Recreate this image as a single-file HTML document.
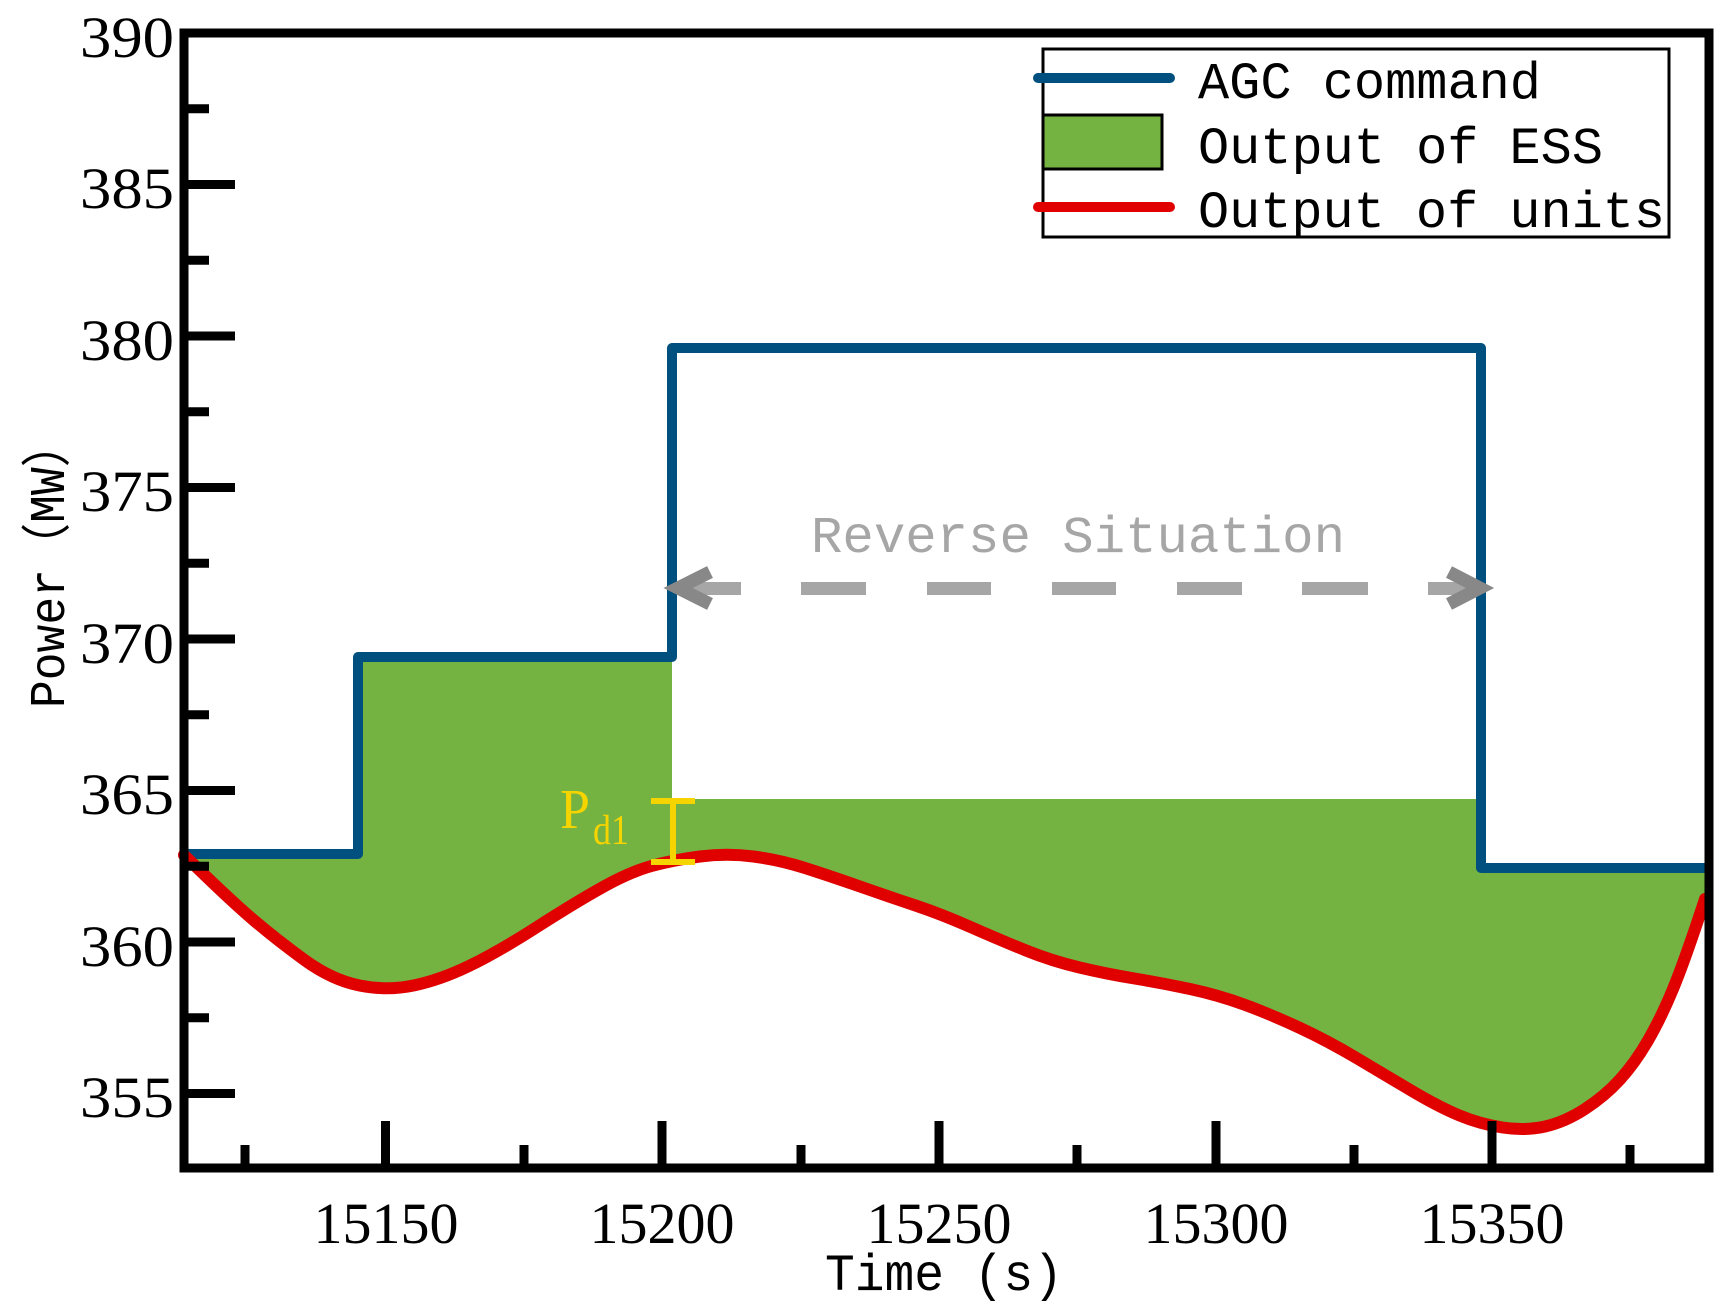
<!DOCTYPE html>
<html><head><meta charset="utf-8"><style>html,body{margin:0;padding:0;background:#fff}svg{display:block}</style></head>
<body>
<svg width="1732" height="1308" viewBox="0 0 1732 1308" xmlns="http://www.w3.org/2000/svg">
<rect width="1732" height="1308" fill="#fff"/>
<!-- green fill -->
<path fill="#74b241" d="M184,855 Q230,900 253.5,920 Q277,940 304.5,960 Q332,980 359.5,985.5 Q387,991 413.5,985.5 Q440,980 469,966 Q498,952 537,927 Q576,902 603,887 Q630,872 651.5,866 Q673,860 700,856.5 Q727,853 753.5,856.5 Q780,860 805,868 Q830,876 860,886.5 Q890,897 915.5,905.5 Q941,914 970.5,927 Q1000,940 1026,950.5 Q1052,961 1079.5,967.5 Q1107,974 1134.5,978.5 Q1162,983 1190,989 Q1218,995 1244,1004.5 Q1270,1014 1299,1027.5 Q1328,1041 1356.5,1058 Q1385,1075 1412,1091 Q1439,1107 1459.5,1115.5 Q1480,1124 1502.5,1127.5 Q1525,1131 1545,1126.5 Q1565,1122 1585,1109 Q1605,1096 1620,1079.5 Q1635,1063 1648,1040.5 Q1661,1018 1673,989 Q1685,960 1705,899 L1708,899 L1708,870 H1481 V799 H672 V660 H358 V854 Z"/>
<!-- blue AGC -->
<path d="M184,854 H358 V657 H672 V348 H1481 V868 H1708" fill="none" stroke="#00507f" stroke-width="10" stroke-linejoin="round"/>
<!-- red units -->
<path fill="none" stroke="#e00000" stroke-width="12" stroke-linejoin="round" stroke-linecap="round" d="M184,855 Q230,900 253.5,920 Q277,940 304.5,960 Q332,980 359.5,985.5 Q387,991 413.5,985.5 Q440,980 469,966 Q498,952 537,927 Q576,902 603,887 Q630,872 651.5,866 Q673,860 700,856.5 Q727,853 753.5,856.5 Q780,860 805,868 Q830,876 860,886.5 Q890,897 915.5,905.5 Q941,914 970.5,927 Q1000,940 1026,950.5 Q1052,961 1079.5,967.5 Q1107,974 1134.5,978.5 Q1162,983 1190,989 Q1218,995 1244,1004.5 Q1270,1014 1299,1027.5 Q1328,1041 1356.5,1058 Q1385,1075 1412,1091 Q1439,1107 1459.5,1115.5 Q1480,1124 1502.5,1127.5 Q1525,1131 1545,1126.5 Q1565,1122 1585,1109 Q1605,1096 1620,1079.5 Q1635,1063 1648,1040.5 Q1661,1018 1673,989 Q1685,960 1705,899"/>
<!-- reverse situation arrow -->
<g fill="#a6a6a6">
<rect x="688" y="582" width="53" height="13"/>
<rect x="801" y="582" width="65" height="13"/>
<rect x="927" y="582" width="64" height="13"/>
<rect x="1052" y="582" width="64" height="13"/>
<rect x="1177" y="582" width="65" height="13"/>
<rect x="1302" y="582" width="66" height="13"/>
<rect x="1428" y="582" width="40" height="13"/>
</g>
<polyline points="710,572 678,588 710,604" fill="none" stroke="#888" stroke-width="13"/>
<polyline points="1449,572 1480,588 1449,604" fill="none" stroke="#888" stroke-width="13"/>
<text x="811" y="552" font-family="Liberation Mono, monospace" font-size="52" fill="#a6a6a6" textLength="534" lengthAdjust="spacingAndGlyphs">Reverse Situation</text>
<!-- Pd1 -->
<g stroke="#f5d400" stroke-width="6">
<line x1="673" y1="801" x2="673" y2="862"/>
<line x1="651" y1="801" x2="695" y2="801"/>
<line x1="651" y1="862" x2="695" y2="862"/>
</g>
<text x="560" y="828" font-family="Liberation Serif, serif" font-size="56" fill="#f5d400" textLength="30" lengthAdjust="spacingAndGlyphs">P</text>
<text x="593" y="844" font-family="Liberation Serif, serif" font-size="42" fill="#f5d400" textLength="36" lengthAdjust="spacingAndGlyphs">d1</text>
<!-- axes frame -->
<rect x="184" y="33" width="1525" height="1135" fill="none" stroke="#000" stroke-width="9"/>
<g stroke="#000" stroke-width="9">
<line x1="184" y1="33" x2="235" y2="33"/>
<line x1="184" y1="184.5" x2="235" y2="184.5"/>
<line x1="184" y1="336" x2="235" y2="336"/>
<line x1="184" y1="487.5" x2="235" y2="487.5"/>
<line x1="184" y1="639" x2="235" y2="639"/>
<line x1="184" y1="790.5" x2="235" y2="790.5"/>
<line x1="184" y1="942" x2="235" y2="942"/>
<line x1="184" y1="1093.5" x2="235" y2="1093.5"/>
<line x1="184" y1="108.75" x2="209" y2="108.75"/>
<line x1="184" y1="260.25" x2="209" y2="260.25"/>
<line x1="184" y1="411.75" x2="209" y2="411.75"/>
<line x1="184" y1="563.25" x2="209" y2="563.25"/>
<line x1="184" y1="714.75" x2="209" y2="714.75"/>
<line x1="184" y1="866.25" x2="209" y2="866.25"/>
<line x1="184" y1="1017.75" x2="209" y2="1017.75"/>
<line x1="385.5" y1="1168" x2="385.5" y2="1121"/>
<line x1="662" y1="1168" x2="662" y2="1121"/>
<line x1="939" y1="1168" x2="939" y2="1121"/>
<line x1="1216" y1="1168" x2="1216" y2="1121"/>
<line x1="1492" y1="1168" x2="1492" y2="1121"/>
<line x1="245" y1="1168" x2="245" y2="1145"/>
<line x1="524" y1="1168" x2="524" y2="1145"/>
<line x1="801" y1="1168" x2="801" y2="1145"/>
<line x1="1077" y1="1168" x2="1077" y2="1145"/>
<line x1="1354" y1="1168" x2="1354" y2="1145"/>
<line x1="1630" y1="1168" x2="1630" y2="1145"/>
</g>
<!-- tick labels -->
<g font-family="Liberation Serif, serif" font-size="58" fill="#000" text-anchor="end">
<text x="174" y="57" textLength="94" lengthAdjust="spacingAndGlyphs">390</text>
<text x="174" y="208" textLength="94" lengthAdjust="spacingAndGlyphs">385</text>
<text x="174" y="360" textLength="94" lengthAdjust="spacingAndGlyphs">380</text>
<text x="174" y="511" textLength="94" lengthAdjust="spacingAndGlyphs">375</text>
<text x="174" y="663" textLength="94" lengthAdjust="spacingAndGlyphs">370</text>
<text x="174" y="814" textLength="94" lengthAdjust="spacingAndGlyphs">365</text>
<text x="174" y="966" textLength="94" lengthAdjust="spacingAndGlyphs">360</text>
<text x="174" y="1117" textLength="94" lengthAdjust="spacingAndGlyphs">355</text>
</g>
<g font-family="Liberation Serif, serif" font-size="58" fill="#000" text-anchor="middle">
<text x="386" y="1243">15150</text>
<text x="662" y="1243">15200</text>
<text x="939" y="1243">15250</text>
<text x="1216" y="1243">15300</text>
<text x="1492" y="1243">15350</text>
</g>
<!-- axis labels -->
<text x="825" y="1290" font-family="Liberation Mono, monospace" font-size="52" textLength="238" lengthAdjust="spacingAndGlyphs">Time (s)</text>
<text transform="translate(64,708) rotate(-90)" font-family="Liberation Mono, 'Noto Sans CJK SC', monospace" font-size="50" textLength="287" lengthAdjust="spacingAndGlyphs">Power（MW）</text>
<!-- legend -->
<rect x="1043" y="49" width="626" height="188" fill="#fff" stroke="#000" stroke-width="3"/>
<line x1="1038" y1="78" x2="1170" y2="78" stroke="#00507f" stroke-width="10" stroke-linecap="round"/>
<rect x="1043" y="115" width="119" height="54" fill="#74b241" stroke="#000" stroke-width="3"/>
<line x1="1038" y1="207" x2="1170" y2="207" stroke="#e00000" stroke-width="10" stroke-linecap="round"/>
<g font-family="Liberation Mono, monospace" font-size="52" fill="#000">
<text x="1198" y="98" textLength="343" lengthAdjust="spacingAndGlyphs">AGC command</text>
<text x="1198" y="163" textLength="405" lengthAdjust="spacingAndGlyphs">Output of ESS</text>
<text x="1198" y="227" textLength="467" lengthAdjust="spacingAndGlyphs">Output of units</text>
</g>
</svg>
</body></html>
